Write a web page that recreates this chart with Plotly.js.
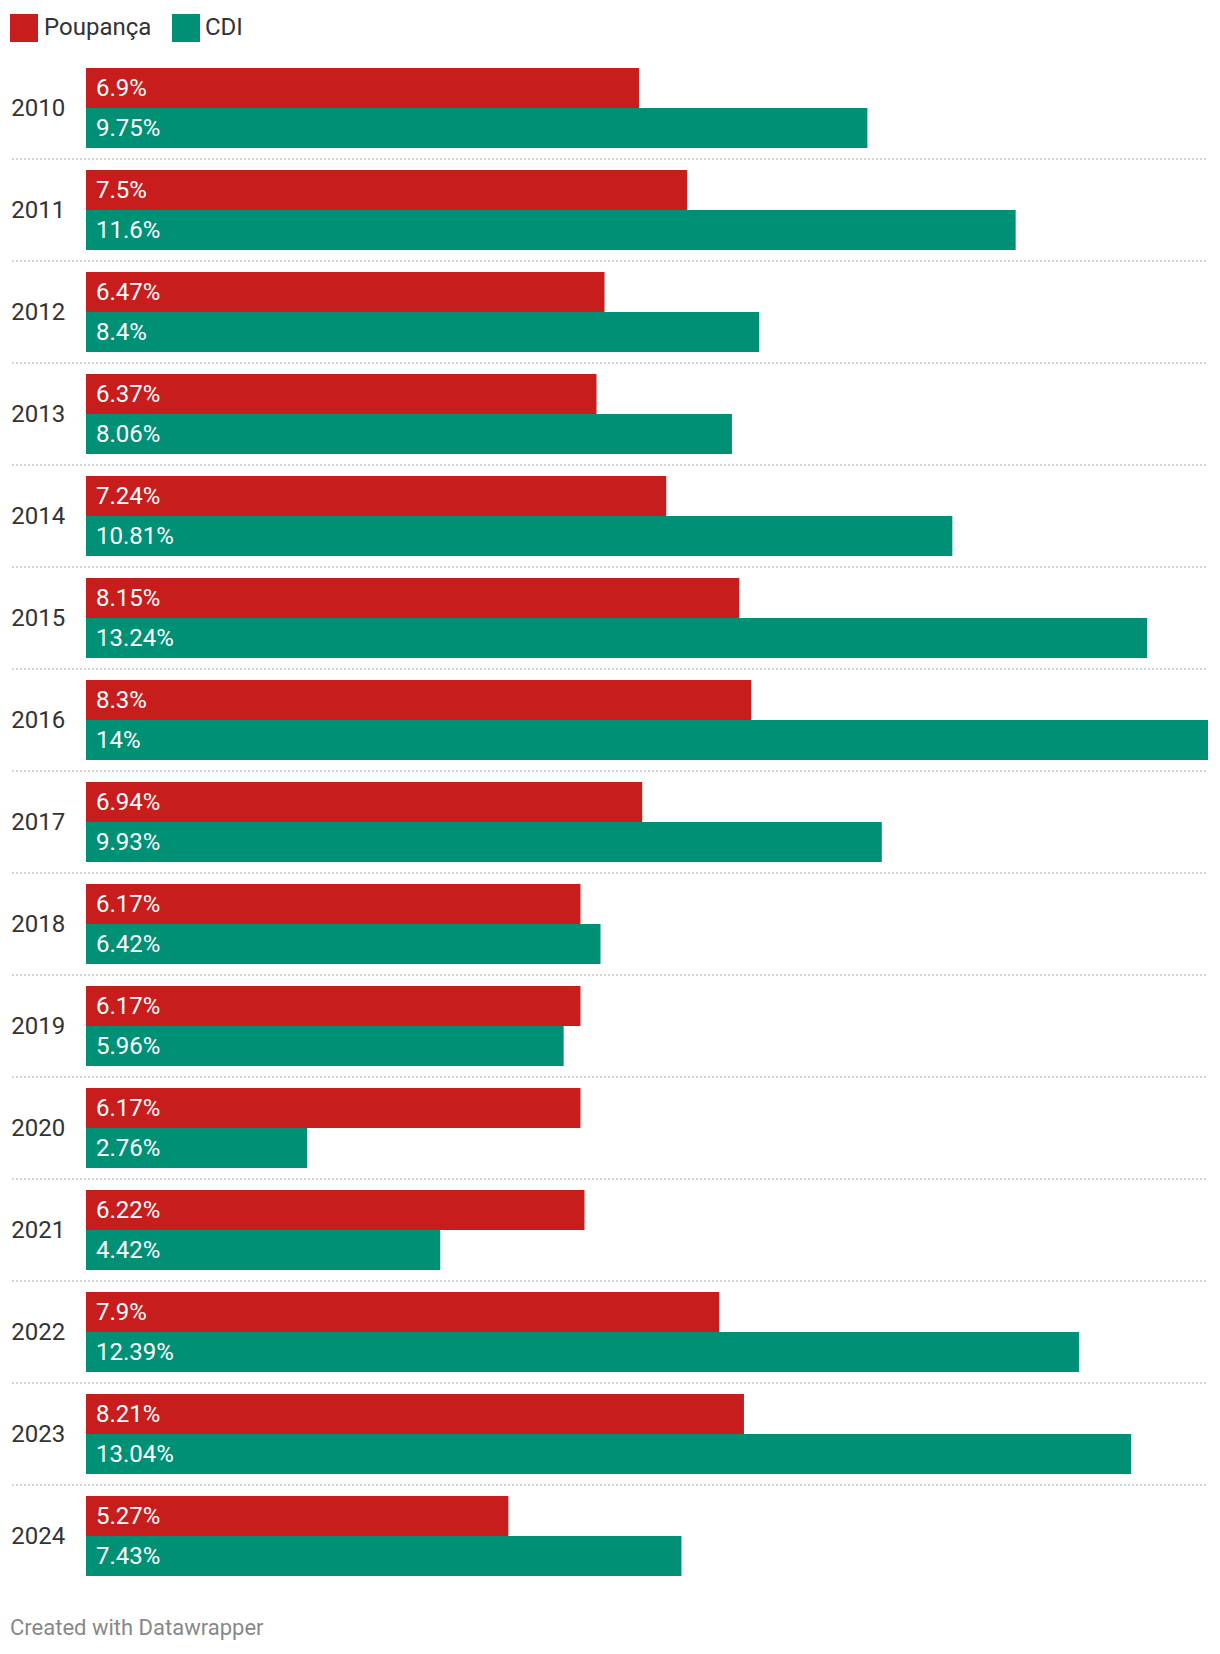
<!DOCTYPE html>
<html>
<head>
<meta charset="utf-8">
<script src="https://cdn.plot.ly/plotly-3.0.1.min.js"></script>
<style>
  html, body { margin: 0; padding: 0; background: #fff; }
  #chart { width: 1220px; height: 1654px; }
</style>
</head>
<body>
<div id="chart"></div>
<script>
// ---- data ----
const years = ["2010","2011","2012","2013","2014","2015","2016","2017","2018","2019","2020","2021","2022","2023","2024"];
const poupanca = [6.9, 7.5, 6.47, 6.37, 7.24, 8.15, 8.3, 6.94, 6.17, 6.17, 6.17, 6.22, 7.9, 8.21, 5.27];
const cdi = [9.75, 11.6, 8.4, 8.06, 10.81, 13.24, 14, 9.93, 6.42, 5.96, 2.76, 4.42, 12.39, 13.04, 7.43];
const seriesNames = ["Poupança", "CDI"];
const footerText = "Created with Datawrapper";

// ---- style ----
const colors = ["#c71e1d", "#009076"];
const FONT = "Roboto, 'Noto Sans', Arial, sans-serif";
const W = 1220, H = 1654;
const margin = { l: 86, r: 12, t: 57, b: 67 };
const plotW = W - margin.l - margin.r;
const plotH = H - margin.t - margin.b;

const seriesValues = [poupanca, cdi];

const traces = seriesValues.map((vals, s) => ({
  type: "bar",
  orientation: "h",
  name: seriesNames[s],
  y: years,
  x: vals,
  marker: { color: colors[s], line: { width: 0 } },
  hoverinfo: "skip",
  showlegend: false
}));

// value labels inside bars (anchored to the data)
const annotations = [];
seriesValues.forEach((vals, s) => {
  vals.forEach((v, i) => {
    annotations.push({
      x: 0, y: i, xref: "x", yref: "y",
      text: String(v) + "%",
      showarrow: false,
      xanchor: "left", yanchor: "middle",
      xshift: 8, yshift: s === 0 ? 20 : -20,
      font: { family: FONT, size: 24, color: "#ffffff" }
    });
  });
});

// legend (manual, large swatches)
const legendItems = [
  { sx: 10, tx: 42 },
  { sx: 172, tx: 203 }
];
const shapes = [];
legendItems.forEach((it, s) => {
  shapes.push({
    type: "rect", xref: "paper", yref: "paper",
    x0: (it.sx - margin.l) / plotW, x1: (it.sx + 28 - margin.l) / plotW,
    y0: (H - margin.b - 14) / plotH, y1: (H - margin.b - 42) / plotH,
    fillcolor: colors[s], line: { width: 0 }
  });
  annotations.push({
    xref: "paper", yref: "paper",
    x: (it.tx - margin.l) / plotW, y: (H - margin.b - 27) / plotH,
    xanchor: "left", yanchor: "middle",
    text: seriesNames[s], showarrow: false,
    font: { family: FONT, size: 24, color: "#333333" }
  });
});

// dotted separators between year groups
for (let i = 0; i < years.length - 1; i++) {
  shapes.push({
    type: "line", xref: "paper", yref: "y",
    x0: (12 - margin.l) / plotW, x1: 1,
    y0: i + 0.5, y1: i + 0.5,
    line: { color: "#d6d6d6", width: 2, dash: "2px,2px" },
    layer: "below"
  });
}

// footer
annotations.push({
  xref: "paper", yref: "paper",
  x: (8 - margin.l) / plotW, y: (H - margin.b - 1628) / plotH,
  xanchor: "left", yanchor: "middle",
  text: footerText, showarrow: false,
  font: { family: FONT, size: 22, color: "#888888" }
});

const layout = {
  width: W, height: H,
  margin: margin,
  paper_bgcolor: "#ffffff",
  plot_bgcolor: "#ffffff",
  barmode: "group",
  bargap: 0.2157,
  bargroupgap: 0,
  showlegend: false,
  font: { family: FONT, color: "#333333" },
  xaxis: {
    range: [0, 14],
    autorange: false,
    visible: false,
    fixedrange: true
  },
  yaxis: {
    type: "category",
    categoryorder: "array",
    categoryarray: years,
    range: [years.length - 0.5, -0.5],
    autorange: false,
    showgrid: false, zeroline: false, showline: false,
    ticks: "outside", ticklen: 15, tickcolor: "rgba(0,0,0,0)",
    tickfont: { family: FONT, size: 24, color: "#333333" },
    fixedrange: true
  },
  shapes: shapes,
  annotations: annotations
};

Plotly.newPlot("chart", traces, layout, { displayModeBar: false, staticPlot: true });
</script>
</body>
</html>
